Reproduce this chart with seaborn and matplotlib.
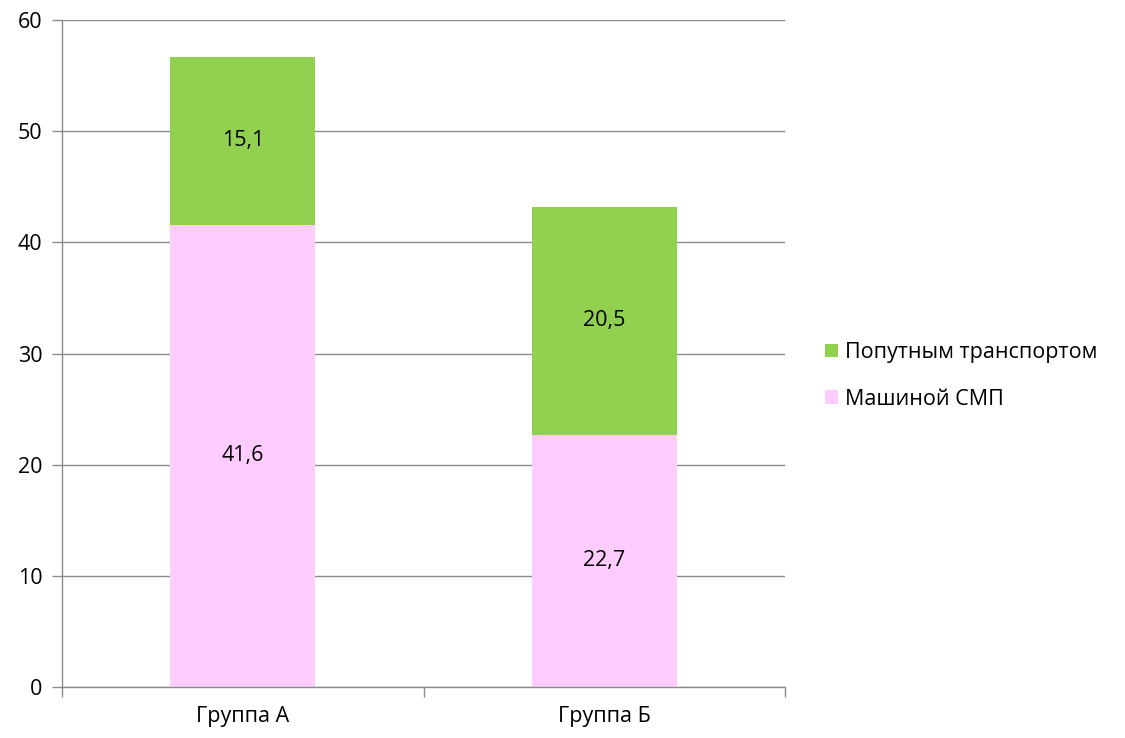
import matplotlib
matplotlib.use("Agg")
import matplotlib.pyplot as plt
import seaborn as sns
import pandas as pd
from matplotlib.patches import Patch

categories = ["Группа А", "Группа Б"]
smp_values = [41.6, 22.7]          # Машиной СМП
passing_values = [15.1, 20.5]      # Попутным транспортом
series_names = ["Попутным транспортом", "Машиной СМП"]
y_ticks = [0, 10, 20, 30, 40, 50, 60]

sns.set_theme(style="white")
plt.rcParams['font.family'] = ['Open Sans', 'DejaVu Sans']
plt.rcParams['text.color'] = 'black'

green = "#92D050"
pink = "#FFCCFF"
grid_col = "#8C8C8C"
FS = 15.5

df = pd.DataFrame({
    "cat": categories,
    "smp": smp_values,
    "passing": passing_values,
})
df["total"] = df["smp"] + df["passing"]

fig = plt.figure(figsize=(11.25, 7.38), dpi=100)
ax = fig.add_axes([62/1125, 1-687/738, (785-62)/1125, (687-20)/738])

sns.barplot(data=df, x="cat", y="total", color=green, width=0.4,
            saturation=1, ax=ax, zorder=3)
sns.barplot(data=df, x="cat", y="smp", color=pink, width=0.4,
            saturation=1, ax=ax, zorder=3)
for p in ax.patches:
    p.set_edgecolor("none")
    p.set_linewidth(0)

ax.set_xlim(-0.5, 1.5)
ax.set_ylim(0, 60)
ax.set_yticks(y_ticks)
ax.yaxis.grid(True, color=grid_col, linewidth=1, zorder=0)
ax.set_axisbelow(True)
ax.set_xlabel("")
ax.set_ylabel("")

for s in ["top", "right"]:
    ax.spines[s].set_visible(False)
for s in ["left", "bottom"]:
    ax.spines[s].set_color(grid_col)
    ax.spines[s].set_linewidth(1)
ax.spines["bottom"].set_zorder(4)

ax.tick_params(axis="y", length=7, color=grid_col, width=1, labelsize=FS,
               left=True, pad=7, labelcolor="black")
ax.tick_params(axis="x", which="major", length=0, labelsize=FS, pad=14,
               labelcolor="black")
ax.set_xticks([-0.5, 0.5, 1.5], minor=True)
ax.tick_params(axis="x", which="minor", length=7, color=grid_col, width=1,
               bottom=True)

for i in range(len(categories)):
    ax.text(i, smp_values[i] / 2, f"{smp_values[i]:.1f}".replace(".", ","),
            ha="center", va="center", fontsize=FS, color="black", zorder=5)
    ax.text(i, smp_values[i] + passing_values[i] / 2,
            f"{passing_values[i]:.1f}".replace(".", ","),
            ha="center", va="center", fontsize=FS, color="black", zorder=5)

handles = [Patch(facecolor=green, edgecolor="none"),
           Patch(facecolor=pink, edgecolor="none")]
leg = fig.legend(handles, series_names, loc="center left",
                 bbox_to_anchor=(806/1125, 1-376/738), frameon=False,
                 fontsize=FS, handlelength=0.6, handleheight=0.6,
                 handletextpad=0.3, labelspacing=1.2)
for t in leg.get_texts():
    t.set_color("black")

fig.savefig("out.png", dpi=100)
